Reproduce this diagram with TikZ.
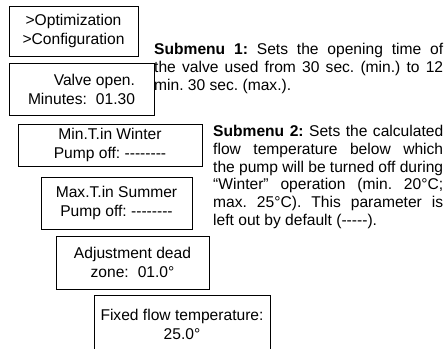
\documentclass[tikz,border=0pt]{standalone}
\usepackage{fontspec}
\setmainfont{Liberation Sans}
\usetikzlibrary{positioning}

\newcommand{\dsh}{-{}}
\frenchspacing
\tikzset{
  menubox/.style={draw, line width=0.9pt, inner sep=0pt, align=center,
    font=\fontsize{15.6}{19}\selectfont},
  notetext/.style={inner sep=0pt, anchor=north west, align=justify,
    font=\fontsize{15.6}{17.8}\selectfont}
}

\begin{document}
\begin{tikzpicture}[x=1pt,y=-1pt]
  \useasboundingbox (0,0) rectangle (446,348); %Page frame

  \node[menubox, minimum width=129pt, minimum height=50pt] (mainmenu) at (73.5,31)
    {>Optimization\\>Configuration}; %Main menu
  \node[menubox, align=right, minimum width=145pt, minimum height=52pt] (valveopen) at (81.5,89)
    {Valve open.\\Minutes:\hspace{9pt}01.30}; %Submenu 1 display
  \node[menubox, minimum width=184pt, minimum height=42pt] (wintermin) at (110,145)
    {Min.T.in Winter\\Pump off: \dsh\dsh\dsh\dsh\dsh\dsh\dsh\dsh}; %Submenu 2 display
  \node[menubox, minimum width=151pt, minimum height=52pt] (summermax) at (116.5,203)
    {Max.T.in Summer\\Pump off: \dsh\dsh\dsh\dsh\dsh\dsh\dsh\dsh}; %Summer display
  \node[menubox, minimum width=153pt, minimum height=53pt] (deadzone) at (132.5,262.5)
    {Adjustment dead\\zone:\hspace{9pt}01.0°}; %Dead zone display
  \node[menubox, minimum width=176pt, minimum height=57pt] (fixedflow) at (182,324)
    {Fixed flow temperature:\\25.0°}; %Fixed flow display

  \node[notetext, text width=289pt] (noteone) at (154,43)
    {\textbf{Submenu 1:} Sets the opening time of\linebreak
     the valve used from 30 sec. (min.) to 12\linebreak
     min. 30 sec. (max.).}; %Note submenu 1
  \node[notetext, text width=230pt] (notetwo) at (213,125)
    {\textbf{Submenu 2:} Sets the calculated\linebreak
     flow temperature below which\linebreak
     the pump will be turned off during\linebreak
     “Winter” operation (min. 20°C;\linebreak
     max. 25°C). This parameter is\linebreak
     left out by default (\dsh\dsh\dsh\dsh\dsh).}; %Note submenu 2
\end{tikzpicture}
\end{document}
